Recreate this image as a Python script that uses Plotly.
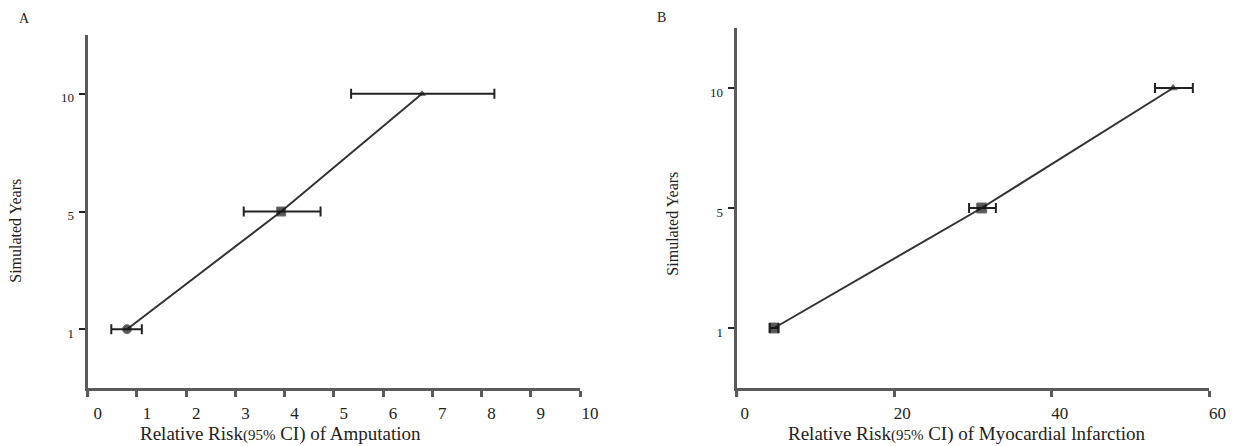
import plotly.graph_objects as go

# ---------------- data ----------------
years = ["1", "5", "10"]

# Panel A: Relative risk of amputation
rr_amp = [0.8, 3.93, 6.79]
rr_amp_lo = [0.48, 3.17, 5.35]
rr_amp_hi = [1.1, 4.73, 8.26]
sym_amp = ["circle", "square", "triangle-up"]
size_amp = [9, 9, 6]

# Panel B: Relative risk of myocardial infarction
rr_mi = [4.75, 31.1, 55.4]
rr_mi_lo = [4.2, 29.5, 53.1]
rr_mi_hi = [5.3, 32.9, 57.9]
sym_mi = ["square", "square", "triangle-up"]
size_mi = [10, 10, 7]

x_ticks_a = list(range(0, 11))
x_ticks_b = [0, 20, 40, 60]
# --------------------------------------

W, H = 1253, 446
FONT = "Liberation Serif"
TXT = "#222222"
AXC = "#5a5a5a"

def px_x(p):
    return p / W

def px_y(p):
    return (H - p) / H

fig = go.Figure()

fig.add_trace(go.Scatter(
    x=rr_amp, y=years, xaxis="x", yaxis="y",
    mode="lines+markers",
    line=dict(color="#333333", width=2),
    marker=dict(symbol=sym_amp, size=size_amp, color="#111111"),
    error_x=dict(type="data", symmetric=False,
                 array=[h - v for h, v in zip(rr_amp_hi, rr_amp)],
                 arrayminus=[v - l for v, l in zip(rr_amp, rr_amp_lo)],
                 color="#222222", thickness=2, width=5),
    showlegend=False, hoverinfo="x+y",
))

fig.add_trace(go.Scatter(
    x=rr_mi, y=years, xaxis="x2", yaxis="y2",
    mode="lines+markers",
    line=dict(color="#333333", width=2),
    marker=dict(symbol=sym_mi, size=size_mi, color="#111111"),
    error_x=dict(type="data", symmetric=False,
                 array=[h - v for h, v in zip(rr_mi_hi, rr_mi)],
                 arrayminus=[v - l for v, l in zip(rr_mi, rr_mi_lo)],
                 color="#222222", thickness=2, width=5),
    showlegend=False, hoverinfo="x+y",
))

xcommon = dict(showgrid=False, zeroline=False, showline=True, linecolor=AXC,
               linewidth=3, ticks="outside", ticklen=6, tickwidth=2.5,
               tickcolor=AXC, tickfont=dict(family=FONT, size=17, color=TXT),
               ticklabelstandoff=2)
ycommon = dict(showgrid=False, zeroline=False, showline=True, linecolor=AXC,
               linewidth=3, ticks="outside", ticklen=6, tickwidth=2,
               tickcolor="#222222", tickfont=dict(family=FONT, size=13, color=TXT),
               type="category", categoryorder="array", categoryarray=years,
               range=[-0.5, 2.5], ticklabelshift=4, ticklabelstandoff=2)

fig.update_layout(
    width=W, height=H,
    margin=dict(l=0, r=0, t=0, b=0),
    paper_bgcolor="white", plot_bgcolor="white",
    xaxis=dict(domain=[px_x(89), px_x(589)], range=[0, 10], tickvals=x_ticks_a,
               anchor="y", ticklabelshift=10, **xcommon),
    yaxis=dict(domain=[px_y(388), px_y(35)], anchor="x", **ycommon),
    xaxis2=dict(domain=[px_x(748), px_x(1228)], range=[0, 60], tickvals=x_ticks_b,
                anchor="y2", ticklabelshift=8, **xcommon),
    yaxis2=dict(domain=[px_y(388), px_y(28)], anchor="x2", **ycommon),
)

# extend the y axis spine slightly below the x axis
for xr, yr in (("x domain", "y domain"), ("x2 domain", "y2 domain")):
    fig.add_shape(type="line", xref=xr, yref=yr, x0=0, x1=0, y0=-0.025, y1=0,
                  line=dict(color=AXC, width=3))

def ann(text, x, y, size, angle=0):
    fig.add_annotation(text=text, x=px_x(x), y=px_y(y), xref="paper", yref="paper",
                       showarrow=False, textangle=angle,
                       font=dict(family=FONT, size=size, color=TXT),
                       xanchor="center", yanchor="middle")

ann("A", 25, 18, 14)
ann("B", 672, 17, 14)
ann("Simulated Years", 15, 231, 16, -90)
ann("Simulated Years", 682, 224, 16, -90)
ann("Relative Risk<span style='font-size:15px'>(95%</span> CI) of Amputation", 285, 434, 19)
ann("Relative Risk<span style='font-size:15px'>(95%</span> CI) of Myocardial lnfarction", 981, 434, 19)

fig.write_html("out.html", config={"displayModeBar": False},
               post_script="document.body.style.margin='0';document.body.style.overflow='hidden';")
